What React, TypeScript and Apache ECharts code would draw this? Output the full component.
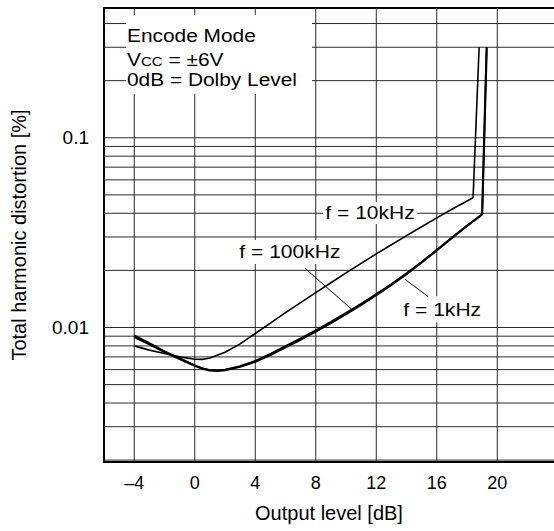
import React, { useEffect, useRef } from 'react';
import * as echarts from 'echarts';

// ---- Data ----
const level10k = [-4, -3, -2, -1, 0, 0.5, 1, 2, 3, 4, 5, 6, 7, 8, 9, 10, 11, 12, 13, 14, 15, 16, 17, 18.4, 18.8];
const thd10k = [0.008, 0.0076, 0.0073, 0.007, 0.0068, 0.00679, 0.0069, 0.0074, 0.0082, 0.0093, 0.01054, 0.01197, 0.01352, 0.01528, 0.01722, 0.0194, 0.02178, 0.02443, 0.02729, 0.03048, 0.03396, 0.03784, 0.04198, 0.0483, 0.3];

const level1k = [-4, -3, -2, -1, 0, 0.5, 1, 1.5, 2, 3, 4, 5, 6, 7, 8, 9, 10, 11, 12, 13, 14, 15, 16, 17, 18, 19, 19.3];
const thd1k = [0.0089, 0.00815, 0.00743, 0.00682, 0.00628, 0.00607, 0.00594, 0.0059, 0.00596, 0.00621, 0.0066, 0.00716, 0.00787, 0.00863, 0.00953, 0.01057, 0.01178, 0.01318, 0.01483, 0.01679, 0.01914, 0.02203, 0.02553, 0.02965, 0.03436, 0.0395, 0.3];

const level100k = [-4, -3, -2, -1, 0, 0.5, 1, 1.5, 2, 3, 4, 5, 6, 7, 8, 9, 10, 11, 12, 13, 14, 15, 16, 17, 18, 19, 19.3];
const thd100k = [0.0091, 0.0083, 0.0075, 0.0069, 0.00632, 0.0061, 0.00597, 0.00593, 0.006, 0.00627, 0.00668, 0.00727, 0.008, 0.00877, 0.00968, 0.01073, 0.01196, 0.01337, 0.01503, 0.01699, 0.01932, 0.0222, 0.02567, 0.02975, 0.0344, 0.0395, 0.3];

const xTickValues = [-4, 0, 4, 8, 12, 16, 20];
const xTickLabels = ['–4', '0', '4', '8', '12', '16', '20'];
const yTickValues = [0.01, 0.1];
const yTickLabels = ['0.01', '0.1'];

const xGridValues = [-4, 0, 4, 8, 12, 16, 20];
const yGridValues = [
  0.002, 0.003, 0.004, 0.005, 0.006, 0.007, 0.008, 0.009,
  0.01, 0.02, 0.03, 0.04, 0.05, 0.06, 0.07, 0.08, 0.09,
  0.1, 0.2, 0.3, 0.4,
];

const X_MIN = -6;
const X_MAX = 23.75;
const Y_MIN = 0.001955;
const Y_MAX = 0.483;

const FONT = '"Liberation Sans", Arial, Helvetica, sans-serif';

const zip = (xs: number[], ys: number[]) => xs.map((x, i) => [x, ys[i]]);

export default function App() {
  const ref = useRef<HTMLDivElement>(null);

  useEffect(() => {
    if (!ref.current) return;
    const chart = echarts.init(ref.current, null, { renderer: 'svg' });

    const textCommon = { fontFamily: FONT, fontSize: 18, fill: '#000' };

    const gridStyle = { color: '#2a2a2a', width: 1 };
    const gridSeries: any[] = [
      ...yGridValues.map((v) => ({
        name: 'hgrid',
        type: 'line',
        data: [[X_MIN, v], [X_MAX, v]],
        showSymbol: false,
        symbol: 'none',
        silent: true,
        z: 1,
        lineStyle: gridStyle,
      })),
      ...xGridValues.map((v) => ({
        name: 'vgrid',
        type: 'line',
        data: [[v, Y_MIN], [v, Y_MAX]],
        showSymbol: false,
        symbol: 'none',
        silent: true,
        z: 1,
        lineStyle: gridStyle,
      })),
    ];

    const option: any = {
      animation: false,
      backgroundColor: '#fff',
      textStyle: { fontFamily: FONT, color: '#000' },
      grid: { left: 104, right: 0, top: 8, bottom: 69, containLabel: false },
      xAxis: [
        {
          type: 'value',
          min: X_MIN,
          max: X_MAX,
          interval: 2,
          name: 'Output level [dB]',
          nameLocation: 'middle',
          nameGap: 41,
          nameTextStyle: { fontSize: 20, color: '#000', fontFamily: FONT },
          axisLine: { show: true, onZero: false, lineStyle: { color: '#000', width: 2 } },
          axisTick: { show: false },
          splitLine: { show: false },
          axisLabel: {
            fontSize: 18,
            color: '#000',
            margin: 12,
            showMinLabel: true,
            showMaxLabel: false,
            formatter: (v: number) => {
              const i = xTickValues.findIndex((t) => Math.abs(t - v) < 1e-9);
              return i >= 0 ? xTickLabels[i] : '';
            },
          },
        },
        {
          type: 'value',
          position: 'top',
          min: X_MIN,
          max: X_MAX,
          interval: 2,
          axisLine: { show: true, onZero: false, lineStyle: { color: '#000', width: 2 } },
          axisTick: { show: false },
          axisLabel: { show: false },
          splitLine: { show: false },
        },
      ],
      yAxis: {
        type: 'log',
        logBase: 10,
        min: Y_MIN,
        max: Y_MAX,
        name: 'Total harmonic distortion [%]',
        nameLocation: 'middle',
        nameGap: 75,
        nameTextStyle: { fontSize: 20, color: '#000', fontFamily: FONT },
        axisLine: { show: true, onZero: false, lineStyle: { color: '#000', width: 2 } },
        axisTick: { show: false },
        splitLine: { show: false },
        minorTick: { show: false },
        axisLabel: {
          fontSize: 19,
          color: '#000',
          margin: 15,
          showMinLabel: false,
          showMaxLabel: false,
          formatter: (v: number) => {
            const i = yTickValues.findIndex((t) => Math.abs(Math.log10(t) - Math.log10(v)) < 1e-6);
            return i >= 0 ? yTickLabels[i] : '';
          },
        },
      },
      series: [
        ...gridSeries,
        {
          name: 'f = 10kHz',
          type: 'line',
          data: zip(level10k, thd10k),
          showSymbol: false,
          symbol: 'none',
          z: 3,
          lineStyle: { color: '#000', width: 1.6 },
        },
        {
          name: 'f = 100kHz',
          type: 'line',
          data: zip(level100k, thd100k),
          showSymbol: false,
          symbol: 'none',
          z: 3,
          lineStyle: { color: '#000', width: 1.6 },
        },
        {
          name: 'f = 1kHz',
          type: 'line',
          data: zip(level1k, thd1k),
          showSymbol: false,
          symbol: 'none',
          z: 3,
          lineStyle: { color: '#000', width: 2.2 },
        },
      ],
      graphic: [
        { type: 'rect', z: 10, shape: { x: 126, y: 15, width: 186, height: 79 }, style: { fill: '#fff' } },
        {
          type: 'text', z: 11, x: 127, y: 35.8, scaleX: 1.16,
          style: { ...textCommon, text: 'Encode Mode', align: 'left', verticalAlign: 'middle' },
        },
        {
          type: 'text', z: 11, x: 127, y: 58.3, scaleX: 1.16,
          style: {
            ...textCommon,
            text: '{a|V}{b|CC}{a| = ±6V}',
            align: 'left',
            verticalAlign: 'middle',
            rich: {
              a: { fontFamily: FONT, fontSize: 18, fill: '#000', verticalAlign: 'bottom', lineHeight: 20 },
              b: { fontFamily: FONT, fontSize: 13, fill: '#000', verticalAlign: 'bottom', lineHeight: 20 },
            },
          },
        },
        {
          type: 'text', z: 11, x: 127, y: 79.3, scaleX: 1.16,
          style: { ...textCommon, text: '0dB = Dolby Level', align: 'left', verticalAlign: 'middle' },
        },
        {
          type: 'text', z: 11, x: 323, y: 213, scaleX: 1.17,
          style: { ...textCommon, text: 'f = 10kHz', align: 'left', verticalAlign: 'middle', backgroundColor: '#fff', padding: [2, 2, 2, 2] },
        },
        {
          type: 'text', z: 11, x: 237, y: 252, scaleX: 1.17,
          style: { ...textCommon, text: 'f = 100kHz', align: 'left', verticalAlign: 'middle', backgroundColor: '#fff', padding: [3, 2, 3, 2] },
        },
        {
          type: 'text', z: 11, x: 401, y: 309.2, scaleX: 1.17,
          style: { ...textCommon, text: 'f = 1kHz', align: 'left', verticalAlign: 'middle', backgroundColor: '#fff', padding: [4, 2, 4, 2] },
        },
        {
          type: 'line', z: 11,
          shape: { x1: 305, y1: 268.3, x2: 351.7, y2: 309.3 },
          style: { stroke: '#000', lineWidth: 1 },
        },
        {
          type: 'line', z: 11,
          shape: { x1: 405, y1: 279.3, x2: 428.3, y2: 296.7 },
          style: { stroke: '#000', lineWidth: 1 },
        },
      ],
    };

    chart.setOption(option);
    return () => chart.dispose();
  }, []);

  return (
    <div
      ref={ref}
      style={{ position: 'fixed', left: 0, top: 0, width: 554, height: 531, background: '#fff' }}
    />
  );
}
